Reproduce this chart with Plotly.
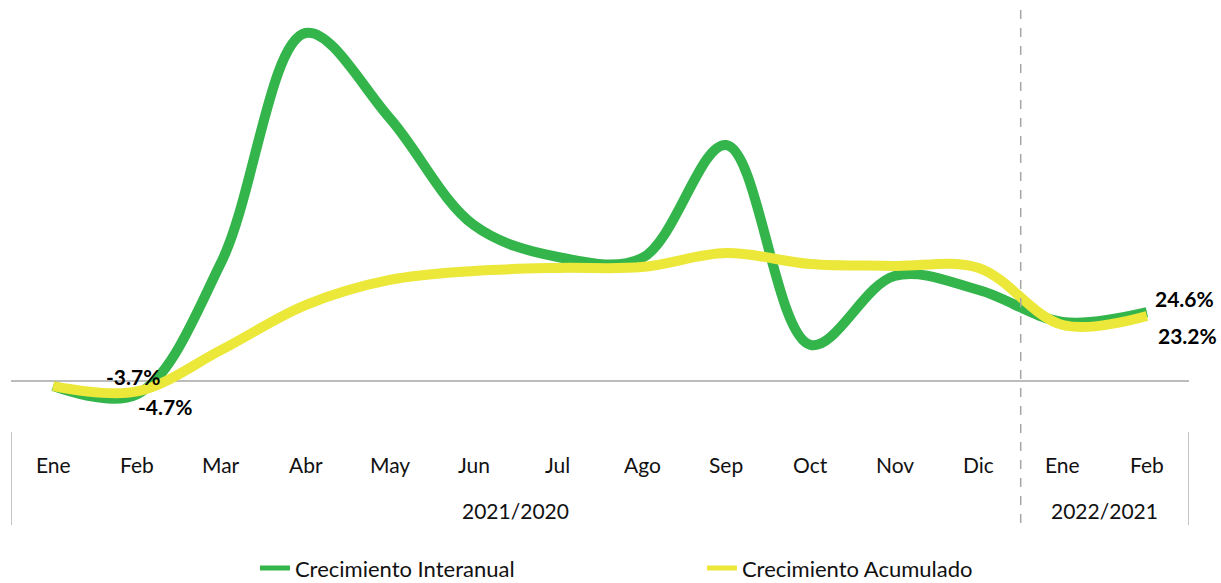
import plotly.graph_objects as go

# Months and grouping periods
meses = ["Ene", "Feb", "Mar", "Abr", "May", "Jun", "Jul", "Ago", "Sep", "Oct", "Nov", "Dic", "Ene", "Feb"]
periodos = ["2021/2020", "2022/2021"]
periodo_tamanos = [12, 2]

# Growth rates (%)
interanual = [-1.8, -4.7, 42.5, 124.3, 93.9, 55.7, 44.3, 43.9, 84.3, 12.9, 37.5, 32.5, 21.1, 24.6]
acumulado = [-1.8, -3.7, 11.1, 27.1, 36.1, 39.3, 40.4, 40.7, 45.7, 41.8, 41.1, 40.4, 20.0, 23.2]

VERDE = "#34B54C"
AMARILLO = "#EBE83A"
GRIS = "#A6A6A6"
FUENTE = "Lato, 'Open Sans', sans-serif"

x = list(range(len(meses)))

fig = go.Figure()
fig.add_trace(go.Scatter(
    x=x, y=interanual, mode="lines", name="Crecimiento Interanual",
    line=dict(color=VERDE, width=10, shape="spline", smoothing=1.0),
))
fig.add_trace(go.Scatter(
    x=x, y=acumulado, mode="lines", name="Crecimiento Acumulado",
    line=dict(color=AMARILLO, width=10, shape="spline", smoothing=1.0),
))

# Zero line
fig.add_shape(type="line", xref="x", yref="y", x0=-0.5, x1=len(meses) - 0.5, y0=0, y1=0,
              line=dict(color=GRIS, width=1.3), layer="below")

# Category axis: month labels, period labels and separators
annotations = []
for i, m in enumerate(meses):
    annotations.append(dict(x=i, y=-0.108, xref="x", yref="paper", yanchor="middle", text=m,
                            showarrow=False, font=dict(family=FUENTE, size=21, color="#111")))
inicio = -0.5
for nombre, n in zip(periodos, periodo_tamanos):
    centro = inicio + n / 2
    annotations.append(dict(x=centro, y=-0.217, xref="x", yref="paper", yanchor="middle", text=nombre,
                            showarrow=False, font=dict(family=FUENTE, size=21, color="#111")))
    inicio += n

for xs in (-0.5, len(meses) - 0.5):
    fig.add_shape(type="line", xref="x", yref="paper", x0=xs, x1=xs, y0=-0.029, y1=-0.253,
                  line=dict(color=GRIS, width=1.3))
# Year divider
fig.add_shape(type="line", xref="x", yref="paper", x0=11.5, x1=11.5, y0=0.988, y1=-0.265,
              line=dict(color=GRIS, width=1.5, dash="dash"))

# Data labels
etiqueta = dict(family=FUENTE, size=21, color="#000")
annotations += [
    dict(x=1, y=acumulado[1], xref="x", yref="y", text=f"<b>{acumulado[1]:.1f}%</b>", showarrow=False,
         xshift=-4, yshift=15, font=etiqueta),
    dict(x=1, y=interanual[1], xref="x", yref="y", text=f"<b>{interanual[1]:.1f}%</b>", showarrow=False,
         xshift=28, yshift=-12, font=etiqueta),
    dict(x=13, y=interanual[13], xref="x", yref="y", text=f"<b>{interanual[13]:.1f}%</b>", showarrow=False,
         xshift=38, yshift=14, font=etiqueta),
    dict(x=13, y=acumulado[13], xref="x", yref="y", text=f"<b>{acumulado[13]:.1f}%</b>", showarrow=False,
         xshift=41, yshift=-19, font=etiqueta),
]

fig.update_layout(
    width=1221, height=583,
    margin=dict(l=11, r=32, t=5, b=163, autoexpand=False),
    paper_bgcolor="white", plot_bgcolor="white",
    showlegend=True,
    legend=dict(orientation="h", x=0.2071, xanchor="left", y=-0.357, yanchor="middle",
                entrywidth=402, entrywidthmode="pixels",
                font=dict(family=FUENTE, size=22, color="#111"), itemsizing="constant"),
    xaxis=dict(range=[-0.5, len(meses) - 0.5], showticklabels=False, showgrid=False,
               zeroline=False, showline=False, ticks=""),
    yaxis=dict(range=[-13.93, 134.3], showticklabels=False, showgrid=False,
               zeroline=False, showline=False, ticks=""),
    annotations=annotations,
)

fig.write_html("out.html", post_script="document.body.style.margin='0';")
